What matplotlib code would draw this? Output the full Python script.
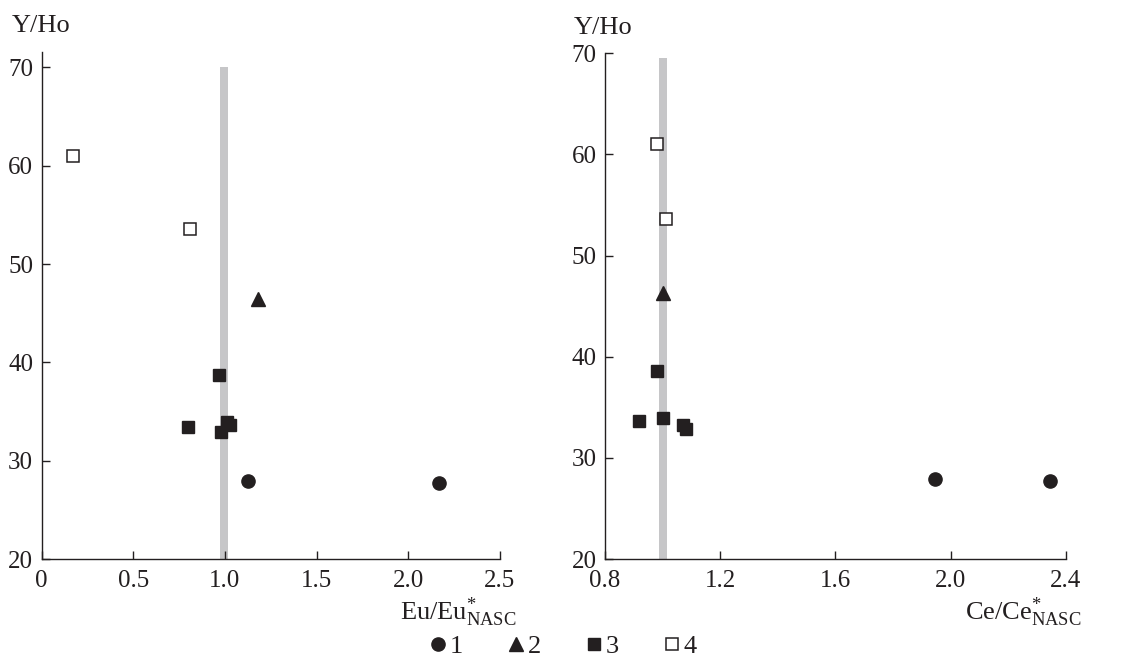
import matplotlib
matplotlib.use("Agg")
import matplotlib.pyplot as plt
from matplotlib.lines import Line2D

plt.rcParams['font.family'] = ['Liberation Serif', 'DejaVu Serif']
plt.rcParams['mathtext.fontset'] = 'custom'
plt.rcParams['mathtext.rm'] = 'Liberation Serif'
plt.rcParams['mathtext.it'] = 'Liberation Serif'

INK = '#231f20'
BAND = '#c6c6c8'
FS = 19
TFS = 18

# ---- data: left panel (Eu/Eu*_NASC vs Y/Ho)
eu_g1 = [1.127, 2.165]
yho_eu_g1 = [27.95, 27.75]
eu_g2 = [1.178]
yho_eu_g2 = [46.4]
eu_g3 = [0.967, 0.797, 0.978, 1.009, 1.027]
yho_eu_g3 = [38.7, 33.4, 32.9, 34.0, 33.6]
eu_g4 = [0.173, 0.808]
yho_eu_g4 = [61.0, 53.6]

# ---- data: right panel (Ce/Ce*_NASC vs Y/Ho)
ce_g1 = [1.945, 2.346]
yho_ce_g1 = [27.9, 27.7]
ce_g2 = [1.0]
yho_ce_g2 = [46.3]
ce_g3 = [0.98, 0.919, 1.0, 1.07, 1.08]
yho_ce_g3 = [38.6, 33.6, 33.9, 33.3, 32.9]
ce_g4 = [0.98, 1.011]
yho_ce_g4 = [61.0, 53.6]

legend_labels = ['1', '2', '3', '4']
left_xticks = [0, 0.5, 1.0, 1.5, 2.0, 2.5]
left_xticklabels = ['0', '0.5', '1.0', '1.5', '2.0', '2.5']
right_xticks = [0.8, 1.2, 1.6, 2.0, 2.4]
right_xticklabels = ['0.8', '1.2', '1.6', '2.0', '2.4']
yticks = [20, 30, 40, 50, 60, 70]

fig = plt.figure(figsize=(11.34, 6.61), dpi=100)
axL = fig.add_axes([0.0366, 0.1539, 0.4043, 0.7667])
axR = fig.add_axes([0.5335, 0.1543, 0.4063, 0.7650])

styles = [
    dict(marker='o', ms=9.5, mfc=INK, mec=INK, ls='none'),
    dict(marker='^', ms=10, mfc=INK, mec=INK, ls='none'),
    dict(marker='s', ms=8.5, mfc=INK, mec=INK, ls='none'),
    dict(marker='s', ms=8.2, mfc='white', mec=INK, mew=1.1, ls='none'),
]

def setup(ax, xlim, ylim, xticks, xticklabels, band):
    ax.fill_betweenx([20, 70], band[0], band[1], color=BAND, lw=0, zorder=1)
    for s in ['top', 'right']:
        ax.spines[s].set_visible(False)
    for s in ['left', 'bottom']:
        ax.spines[s].set_color(INK)
        ax.spines[s].set_linewidth(1.0)
    ax.set_xlim(*xlim)
    ax.set_ylim(*ylim)
    ax.set_xticks(xticks)
    ax.set_xticklabels(xticklabels)
    ax.set_yticks(yticks)
    ax.tick_params(direction='in', length=6, width=1.0, colors=INK,
                   labelsize=TFS, labelcolor=INK)
    ax.tick_params(axis='x', pad=8)
    ax.tick_params(axis='y', pad=6)

setup(axL, (0, 2.5), (20, 71.5), left_xticks, left_xticklabels, (0.976, 1.018))
setup(axR, (0.8, 2.4), (20, 70), right_xticks, right_xticklabels, (0.988, 1.014))
axR.fill_betweenx([69.5, 70], 0.988, 1.014, color='white', lw=0, zorder=1.5)

for ax, xs, ys in [
    (axL, [eu_g1, eu_g2, eu_g3, eu_g4], [yho_eu_g1, yho_eu_g2, yho_eu_g3, yho_eu_g4]),
    (axR, [ce_g1, ce_g2, ce_g3, ce_g4], [yho_ce_g1, yho_ce_g2, yho_ce_g3, yho_ce_g4]),
]:
    for x, y, st in zip(xs, ys, styles):
        ax.plot(x, y, zorder=3, clip_on=False, **st)

fig.text(0.0106, 0.960, 'Y/Ho', fontsize=FS, color=INK, va='center', ha='left')
fig.text(0.5062, 0.958, 'Y/Ho', fontsize=FS, color=INK, va='center', ha='left')
fig.text(0.4555, 0.074, r'Eu/Eu$^{*}_{\mathrm{NASC}}$', fontsize=FS, color=INK,
         ha='right', va='center')
fig.text(0.9535, 0.074, r'Ce/Ce$^{*}_{\mathrm{NASC}}$', fontsize=FS, color=INK,
         ha='right', va='center')

handles = [Line2D([], [], **st) for st in styles]
fig.legend(handles, legend_labels, loc='center', bbox_to_anchor=(0.497, 0.022),
           ncol=4, frameon=False, fontsize=FS, handlelength=0.6,
           handletextpad=0.15, columnspacing=1.7, labelcolor=INK,
           borderpad=0, borderaxespad=0)

fig.savefig('out.png', dpi=100)
